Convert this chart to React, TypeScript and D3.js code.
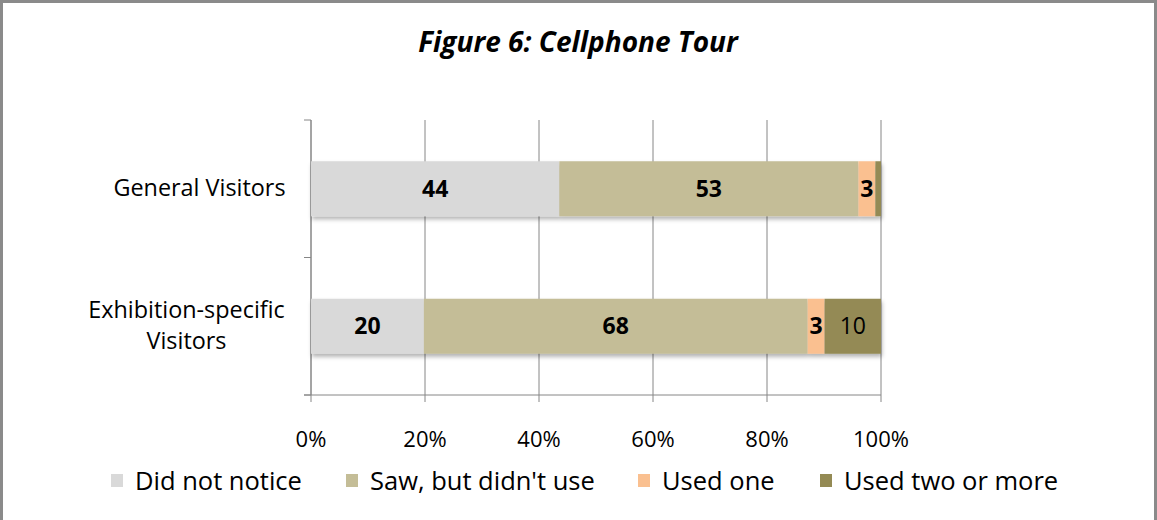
import React from "react";
import * as d3 from "d3";

const categories = ["General Visitors", "Exhibition-specific Visitors"];
const categoryLines = [["General Visitors"], ["Exhibition-specific", "Visitors"]];
const seriesNames = ["Did not notice", "Saw, but didn't use", "Used one", "Used two or more"];
const seriesColors = ["#D9D9D9", "#C4BD97", "#FAC090", "#948A54"];
const generalValues = [44, 53, 3, 1];
const exhibitionValues = [20, 68, 3, 10];
const labelShown = [true, true, true, false];
const exhibitionLabelShown = [true, true, true, true];
const labelBold = [true, true, true, false];
const xTicks = [0, 0.2, 0.4, 0.6, 0.8, 1];
const legendX = [111, 346, 638, 820];

const W = 1157;
const H = 520;
const FONT = "'Open Sans', sans-serif";

export default function App() {
  const x = d3.scaleLinear().domain([0, 1]).range([311, 881]);
  const y = d3.scaleBand<string>().domain(categories).range([120, 395]).paddingInner(0.6).paddingOuter(0.3);
  const band = d3.scaleBand<string>().domain(categories).range([120, 395]);
  const rows = [generalValues, exhibitionValues];
  const shows = [labelShown, exhibitionLabelShown];

  return (
    <div style={{ position: "absolute", left: 0, top: 0 }}>
      <svg width={W} height={H} style={{ display: "block", background: "#fff" }} fontFamily={FONT}>
        <defs>
          <filter id="sh" x="-5%" y="-20%" width="110%" height="160%">
            <feDropShadow dx="1" dy="3" stdDeviation="2" floodColor="#000" floodOpacity="0.3" />
          </filter>
        </defs>
        <rect x={1.5} y={1.5} width={W - 3} height={H + 10} fill="#fff" stroke="#8a8a8a" strokeWidth={3} />
        <text x={578} y={52} textAnchor="middle" fontSize={28} fontWeight="bold" fontStyle="italic" fill="#000">
          Figure 6: Cellphone Tour
        </text>
        {xTicks.map((t) => (
          <line key={t} x1={x(t)} x2={x(t)} y1={120} y2={402} stroke="#868686" strokeWidth={1} />
        ))}
        <line x1={311} x2={311} y1={120} y2={395} stroke="#868686" />
        <line x1={304} x2={881} y1={395} y2={395} stroke="#868686" />
        {[120, 257.5, 395].map((v) => (
          <line key={v} x1={304} x2={311} y1={v} y2={v} stroke="#868686" />
        ))}
        {xTicks.map((t) => (
          <text key={t} x={x(t)} y={447} textAnchor="middle" fontSize={22} fill="#000">
            {Math.round(t * 100)}%
          </text>
        ))}
        {rows.map((vals, ri) => {
          const total = d3.sum(vals);
          const cum = d3.cumsum([0, ...vals]);
          const yy = y(categories[ri])!;
          const bh = y.bandwidth();
          return (
            <g key={ri}>
              <g filter="url(#sh)">
                {vals.map((v, i) => (
                  <rect key={i} x={x(cum[i] / total)} y={yy} width={x(cum[i + 1] / total) - x(cum[i] / total)} height={bh} fill={seriesColors[i]} />
                ))}
              </g>
              {vals.map((v, i) =>
                shows[ri][i] ? (
                  <text key={i} x={(x(cum[i] / total) + x(cum[i + 1] / total)) / 2} y={yy + bh / 2 + 8} textAnchor="middle" fontSize={23} fontWeight={labelBold[i] ? "bold" : "normal"} fill="#000">
                    {v}
                  </text>
                ) : null
              )}
            </g>
          );
        })}
        {categories.map((c, ci) => {
          const lines = categoryLines[ci];
          const cy = band(c)! + band.bandwidth() / 2;
          const lh = 31;
          const start = cy - ((lines.length - 1) * lh) / 2 + 7.5;
          return (
            <text key={c} fontSize={23.4} fill="#000" textAnchor="middle">
              {lines.map((l, li) => (
                <tspan key={li} x={lines.length > 1 ? 186.5 : 199.5} y={start + li * lh}>
                  {l}
                </tspan>
              ))}
            </text>
          );
        })}
        {seriesNames.map((s, i) => (
          <g key={s}>
            <rect x={legendX[i]} y={474} width={12} height={13} fill={seriesColors[i]} />
            <text x={legendX[i] + 24} y={490} fontSize={25.5} fill="#000">
              {s}
            </text>
          </g>
        ))}
      </svg>
    </div>
  );
}
